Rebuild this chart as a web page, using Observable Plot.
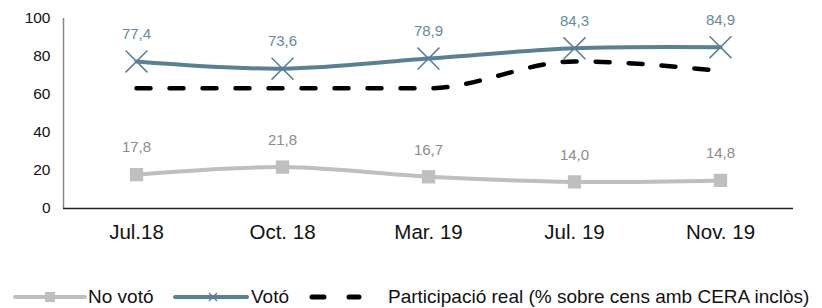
<!DOCTYPE html>
<html>
<head>
<meta charset="utf-8">
<script src="https://cdn.jsdelivr.net/npm/d3@7"></script>
<script src="https://cdn.jsdelivr.net/npm/@observablehq/plot@0.6"></script>
<style>
  body { margin: 0; background: #fff; font-family: "Liberation Sans", Arial, sans-serif; }
  #legend { position: relative; height: 38px; width: 822px; font-size: 19px; color: #111; }
  #legend .item { position: absolute; top: 15px; height: 24px; display: flex; align-items: center; line-height: 24px; }
  #legend svg { display: block; }
  #chart svg text { font-weight: normal; stroke: none !important; }
</style>
</head>
<body>
<div id="chart"></div>
<div id="legend"></div>
<script>
const categories = ["Jul.18", "Oct. 18", "Mar. 19", "Jul. 19", "Nov. 19"];
const voto = [77.4, 73.6, 78.9, 84.3, 84.9];
const noVoto = [17.8, 21.8, 16.7, 14.0, 14.8];
const participacio = [63.3, 63.3, 63.3, 77.4, 72.4];
const yTicks = [0, 20, 40, 60, 80, 100];

const cVoto = "#5b7f95";
const cNoVoto = "#bfbfbf";
const fmt = v => d3.format(".1f")(v).replace(".", ",");

const rows = (vals) => categories.map((c, i) => ({cat: c, v: vals[i]}));
const dVoto = rows(voto), dNo = rows(noVoto), dPart = rows(participacio);

const chart = Plot.plot({
  width: 822,
  height: 270,
  marginLeft: 63,
  marginRight: 29,
  marginTop: 18,
  marginBottom: 62,
  style: {fontFamily: "'Liberation Sans', Arial, sans-serif", background: "#fff", color: "#111"},
  x: {type: "point", domain: categories, padding: 0.5, label: null},
  y: {domain: [0, 100], label: null},
  marks: [
    Plot.axisY({ticks: yTicks, tickSize: 0, tickPadding: 13, fontSize: 15.5, label: null}),
    Plot.axisX({tickSize: 0, tickPadding: 16, fontSize: 20.5, label: null}),
    Plot.ruleX([0], {x: () => categories[0], y1: 0, y2: 100, dx: -73, stroke: "#888", strokeWidth: 1.5}),
    Plot.ruleY([0], {stroke: "#222", strokeWidth: 1.5}),
    Plot.line(dPart, {x: "cat", y: "v", stroke: "#000", strokeWidth: 4.5, strokeDasharray: "14 19", strokeLinecap: "round", curve: "monotone-x"}),
    Plot.line(dNo, {x: "cat", y: "v", stroke: cNoVoto, strokeWidth: 4, curve: "cardinal", tension: 0}),
    Plot.dot(dNo, {x: "cat", y: "v", symbol: "square", r: 7.5, fill: cNoVoto, stroke: "none"}),
    Plot.line(dVoto, {x: "cat", y: "v", stroke: cVoto, strokeWidth: 4, curve: "cardinal", tension: 0}),
    Plot.dot(dVoto, {x: "cat", y: "v", symbol: "times", r: 10, stroke: cVoto, strokeWidth: 1.5}),
    Plot.text(dVoto, {x: "cat", y: "v", text: d => fmt(d.v), dy: -27.5, fill: "#658aa0", fontSize: 15}),
    Plot.text(dNo, {x: "cat", y: "v", text: d => fmt(d.v), dy: -27, fill: "#8c8c8c", fontSize: 15})
  ]
});
document.getElementById("chart").appendChild(chart);

// Legend
const legend = d3.select("#legend");
const items = [
  {label: "No votó", left: 13, width: 75, draw: s => { s.append("line").attr("x1",2).attr("x2",72).attr("y1",12).attr("y2",12).attr("stroke",cNoVoto).attr("stroke-width",4).attr("stroke-linecap","round"); s.append("rect").attr("x",32).attr("y",7).attr("width",10).attr("height",10).attr("fill",cNoVoto); }},
  {label: "Votó", left: 173, width: 78, draw: s => { s.append("line").attr("x1",2).attr("x2",74).attr("y1",12).attr("y2",12).attr("stroke",cVoto).attr("stroke-width",4).attr("stroke-linecap","round"); s.append("path").attr("d","M36,8L44,16M36,16L44,8").attr("stroke",cVoto).attr("stroke-width",1.3); }},
  {label: "Participació real (% sobre cens amb CERA inclòs)", left: 306, width: 82, draw: s => { s.append("line").attr("x1",6).attr("x2",53).attr("y1",12).attr("y2",12).attr("stroke","#000").attr("stroke-width",5).attr("stroke-dasharray","12 25").attr("stroke-linecap","round"); }}
];
items.forEach(it => {
  const div = legend.append("div").attr("class","item").style("left", it.left + "px");
  const s = div.append("svg").attr("width", it.width).attr("height", 24);
  it.draw(s);
  div.append("span").text(it.label);
});
</script>
</body>
</html>
